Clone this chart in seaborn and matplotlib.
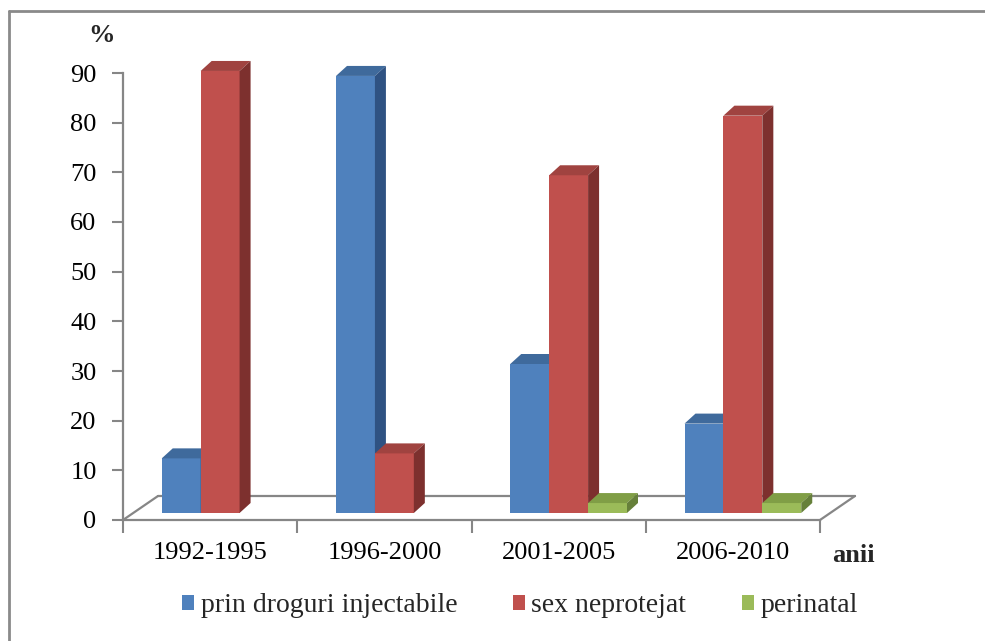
import matplotlib
matplotlib.use("Agg")
import matplotlib.pyplot as plt
from matplotlib.patches import Polygon, Patch
from matplotlib.lines import Line2D
from matplotlib.transforms import ScaledTranslation
from matplotlib.colors import to_hex
import seaborn as sns
import pandas as pd

# Share of new HIV infections by transmission route, per period (%)
periods = ["1992-1995", "1996-2000", "2001-2005", "2006-2010"]
routes = ["prin droguri injectabile", "sex neprotejat", "perinatal"]
injectable = [11, 88, 30, 18]
unprotected_sex = [89, 12, 68, 80]
perinatal = [0, 0, 2, 2]
y_ticks = [0, 10, 20, 30, 40, 50, 60, 70, 80, 90]

front_colors = ["#4f81bd", "#c0504d", "#9bbb59"]
top_colors = ["#3f6a9c", "#a04340", "#809e46"]
side_colors = ["#2f5282", "#7d302e", "#66803a"]
axis_gray = "#868686"

df = pd.DataFrame({
    "perioada": periods * 3,
    "cale": [routes[0]] * 4 + [routes[1]] * 4 + [routes[2]] * 4,
    "procent": injectable + unprotected_sex + perinatal,
})

sns.set_theme(style="white")
plt.rcParams["font.family"] = ["Liberation Serif", "DejaVu Serif"]

W, H = 985, 641
fig = plt.figure(figsize=(W / 100, H / 100), dpi=100)
ax = fig.add_axes([123 / W, 121 / H, 697 / W, 447 / H])

sns.barplot(data=df, x="perioada", y="procent", hue="cale", order=periods,
            hue_order=routes, palette=front_colors, saturation=1, width=0.67,
            gap=0, linewidth=0, errorbar=None, legend=False, ax=ax)
ax.set_xlim(-0.5, 3.5)
ax.set_ylim(0, 90)

# pixel -> data unit conversion for the pseudo-3D depth
px_x = ax.bbox.width / 4.0
px_y = ax.bbox.height / 90.0
dx, dy = 11 / px_x, 10 / px_y          # bar depth
fdx, fdy = 35 / px_x, 24 / px_y        # floor depth

# bars stand a little behind the front edge of the floor
shift = ScaledTranslation(10 / 100, 7 / 100, fig.dpi_scale_trans)
bar_trans = ax.transData + shift

for p in list(ax.patches):
    col = to_hex(p.get_facecolor())
    k = front_colors.index(col) if col in front_colors else 0
    z = 2 + 0.1 * k
    p.set_transform(bar_trans)
    p.set_zorder(z)
    p.set_clip_on(False)
    h = p.get_height()
    if h <= 0:
        p.set_visible(False)
        continue
    x0, w = p.get_x(), p.get_width()
    top = Polygon([(x0, h), (x0 + w, h), (x0 + w + dx, h + dy), (x0 + dx, h + dy)],
                  closed=True, facecolor=top_colors[k], edgecolor="none",
                  transform=bar_trans, zorder=z, clip_on=False)
    side = Polygon([(x0 + w, 0), (x0 + w + dx, dy), (x0 + w + dx, h + dy), (x0 + w, h)],
                   closed=True, facecolor=side_colors[k], edgecolor="none",
                   transform=bar_trans, zorder=z, clip_on=False)
    ax.add_patch(top)
    ax.add_patch(side)

# floor outline
floor_kw = dict(color=axis_gray, lw=1.6, zorder=1, clip_on=False)
ax.plot([-0.5 + fdx, 3.5 + fdx], [fdy, fdy], **floor_kw)
ax.plot([-0.5, -0.5 + fdx], [0, fdy], **floor_kw)
ax.plot([3.5, 3.5 + fdx], [0, fdy], **floor_kw)

# axes styling
for s in ("top", "right"):
    ax.spines[s].set_visible(False)
for s in ("left", "bottom"):
    ax.spines[s].set_color(axis_gray)
    ax.spines[s].set_linewidth(1.6)

ax.set_yticks(y_ticks)
ax.set_yticklabels([str(v) for v in y_ticks])
ax.tick_params(axis="y", left=True, direction="out", length=8, width=1.5,
               color=axis_gray, pad=11, labelsize=19, labelcolor="black")
ax.set_xticks(range(len(periods)))
ax.set_xticklabels(periods)
ax.set_xticks([-0.5, 0.5, 1.5, 2.5, 3.5], minor=True)
ax.tick_params(axis="x", which="major", bottom=False, length=0, pad=16,
               labelsize=19, labelcolor="black")
ax.tick_params(axis="x", which="minor", bottom=True, direction="out", length=9,
               width=1.5, color=axis_gray)
ax.set_xlabel("")
ax.set_ylabel("")
ax.grid(False)

fig.text(88 / W, 1 - 36 / H, "%", fontsize=19, fontweight="bold", ha="left", va="center")
fig.text(832 / W, 1 - 556 / H, "anii", fontsize=19, fontweight="bold", ha="left", va="center")

handles = [Patch(facecolor=c, edgecolor="none") for c in front_colors]
fig.legend(handles=handles, labels=routes, loc="center",
           bbox_to_anchor=(520 / W, 1 - 606 / H), ncol=3, frameon=False,
           fontsize=20, handlelength=0.42, handleheight=0.42,
           handletextpad=0.25, columnspacing=2.0)

# outer chart frame
fig.add_artist(Line2D([9 / W, 1], [1 - 11 / H, 1 - 11 / H], transform=fig.transFigure,
                      color="#8a8a8a", lw=2))
fig.add_artist(Line2D([9 / W, 9 / W], [0, 1 - 11 / H], transform=fig.transFigure,
                      color="#8a8a8a", lw=2))

fig.savefig("out.png", dpi=100)
